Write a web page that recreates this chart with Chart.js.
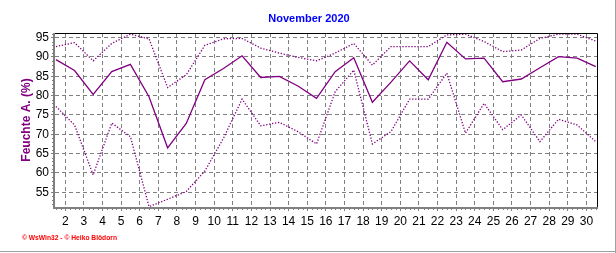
<!DOCTYPE html>
<html>
<head>
<meta charset="utf-8">
<script src="https://cdn.jsdelivr.net/npm/chart.js@4.4.0/dist/chart.umd.min.js"></script>
<style>
  html, body { margin: 0; padding: 0; background: #fff; }
</style>
</head>
<body>
<canvas id="humChart" width="616" height="253"></canvas>
<script>
const days = [1, 2, 3, 4, 5, 6, 7, 8, 9, 10, 11, 12, 13, 14, 15, 16, 17, 18, 19, 20, 21, 22, 23, 24, 25, 26, 27, 28, 29, 30];
const humMean = [89.3, 86.5, 80.3, 86.2, 88.1, 79.7, 66.5, 72.8, 84.1, 87.0, 90.3, 84.7, 85.0, 82.5, 79.3, 86.2, 89.8, 78.3, 83.5, 89.0, 84.1, 93.8, 89.5, 89.7, 83.6, 84.3, 87.2, 90.1, 89.7, 87.5];
const humMax = [92.7, 93.7, 89.0, 93.5, 95.9, 94.7, 82.1, 85.4, 93.0, 94.7, 94.8, 92.3, 91.0, 89.9, 89.0, 91.0, 93.5, 87.9, 92.7, 92.7, 92.7, 95.7, 95.9, 94.0, 91.4, 91.8, 94.8, 95.9, 95.9, 94.1];
const humMin = [77.2, 72.4, 59.5, 72.9, 69.4, 51.3, 53.2, 55.2, 60.5, 69.0, 79.1, 72.2, 73.1, 70.7, 67.5, 81.0, 86.6, 67.5, 70.7, 79.1, 79.1, 85.8, 70.3, 78.0, 71.2, 75.0, 68.1, 73.9, 72.4, 68.1];
const xTicks = [2, 3, 4, 5, 6, 7, 8, 9, 10, 11, 12, 13, 14, 15, 16, 17, 18, 19, 20, 21, 22, 23, 24, 25, 26, 27, 28, 29, 30];
const yTicks = [55, 60, 65, 70, 75, 80, 85, 90, 95];
const chartTitle = 'November 2020';
const yTitle = 'Feuchte A. (%)';
const credit = '\u00a9 WsWin32 - \u00a9 Heiko Bl\u00f6dorn';

const PURPLE = '#800080';
const GRID = '#808080';

// daily values sit in the middle of each day
const toPoints = vals => days.map((d, i) => ({ x: d + 0.5, y: vals[i] }));

// frame, minor ticks and the texts around the plot
const decor = {
  id: 'decor',
  afterDraw(chart) {
    const { ctx, chartArea: a, scales: { x, y } } = chart;
    ctx.save();

    ctx.strokeStyle = GRID;
    ctx.lineWidth = 1;
    ctx.beginPath();
    for (let v = Math.ceil(x.min * 4) / 4; v <= x.max; v += 0.25) {
      if (Number.isInteger(v)) continue;
      const px = Math.round(x.getPixelForValue(v)) + 0.5;
      ctx.moveTo(px, a.bottom);
      ctx.lineTo(px, a.bottom + 3);
    }
    for (let v = Math.ceil(y.min); v <= y.max; v++) {
      if (v % 5 === 0) continue;
      const py = Math.round(y.getPixelForValue(v)) + 0.5;
      ctx.moveTo(a.left - 3, py);
      ctx.lineTo(a.left, py);
    }
    ctx.stroke();

    // top/right black, left/bottom grey
    ctx.strokeStyle = '#000';
    ctx.beginPath();
    ctx.moveTo(a.left, a.top + 0.5);
    ctx.lineTo(a.right - 0.5, a.top + 0.5);
    ctx.lineTo(a.right - 0.5, a.bottom);
    ctx.stroke();
    ctx.fillStyle = GRID;
    ctx.fillRect(a.left - 2, a.top, 2, a.bottom - a.top + 2);
    ctx.fillRect(a.left - 2, a.bottom, a.right - a.left + 2, 2);

    // outer shadow edge
    ctx.fillStyle = '#a0a0a0';
    ctx.fillRect(chart.width - 1, 0, 1, chart.height);
    ctx.fillRect(0, chart.height - 2, chart.width, 1);

    ctx.textBaseline = 'middle';
    ctx.textAlign = 'center';
    ctx.fillStyle = '#0000ff';
    ctx.font = 'bold 11px "Liberation Sans"';
    ctx.fillText(chartTitle, 309, 19);

    ctx.fillStyle = PURPLE;
    ctx.font = 'bold 12px "Liberation Sans"';
    ctx.translate(27, 120);
    ctx.rotate(-Math.PI / 2);
    ctx.fillText(yTitle, 0, 0);
    ctx.setTransform(1, 0, 0, 1, 0, 0);

    ctx.textAlign = 'left';
    ctx.fillStyle = '#ff0000';
    ctx.font = 'bold 7px "Liberation Sans"';
    ctx.fillText(credit, 22, 238, 95);
    ctx.restore();
  }
};

const tickFont = { family: 'Liberation Sans', size: 12 };

new Chart(document.getElementById('humChart'), {
  type: 'line',
  data: {
    datasets: [
      { label: 'Max', data: toPoints(humMax), borderColor: PURPLE, borderWidth: 1.3, borderDash: [1.3, 1.7], pointRadius: 0, tension: 0 },
      { label: 'Mittel', data: toPoints(humMean), borderColor: PURPLE, borderWidth: 1.3, pointRadius: 0, tension: 0 },
      { label: 'Min', data: toPoints(humMin), borderColor: PURPLE, borderWidth: 1.3, borderDash: [1.3, 1.7], pointRadius: 0, tension: 0 }
    ]
  },
  options: {
    responsive: false,
    animation: false,
    layout: { padding: { top: 33, right: 18, left: 0, bottom: 0 } },
    plugins: { legend: { display: false }, tooltip: { enabled: false } },
    scales: {
      x: {
        type: 'linear',
        min: 1.45,
        max: 30.62,
        afterBuildTicks: s => { s.ticks = xTicks.map(v => ({ value: v })); },
        afterFit: s => { s.height = 46; },
        grid: { color: GRID, tickColor: GRID, tickLength: 4 },
        border: { display: false, dash: [4, 3] },
        ticks: { color: '#000', font: tickFont, padding: 3, maxRotation: 0, autoSkip: false }
      },
      y: {
        type: 'linear',
        min: 51.2,
        max: 96.2,
        afterBuildTicks: s => { s.ticks = yTicks.map(v => ({ value: v })); },
        afterFit: s => { s.width = 55; },
        grid: { color: GRID, tickColor: GRID, tickLength: 4 },
        border: { display: false, dash: [4, 3] },
        ticks: { color: '#000', font: tickFont, padding: 2 }
      }
    }
  },
  plugins: [decor]
});
</script>
</body>
</html>
